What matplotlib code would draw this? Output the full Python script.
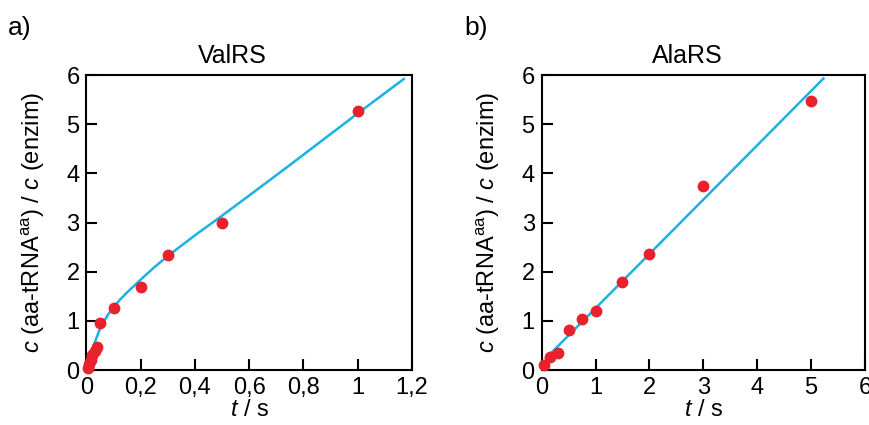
import numpy as np
import matplotlib
matplotlib.use("Agg")
import matplotlib.pyplot as plt

plt.rcParams['font.family'] = ['Liberation Sans', 'DejaVu Sans']
plt.rcParams['mathtext.fontset'] = 'custom'
plt.rcParams['mathtext.rm'] = 'Liberation Sans'
plt.rcParams['mathtext.it'] = 'Liberation Sans:italic'

# ValRS data (t / s, c(aa-tRNA)/c(enzim))
val_t = [0.005, 0.01, 0.015, 0.02, 0.03, 0.04, 0.05, 0.1, 0.2, 0.3, 0.5, 1.0]
val_c = [0.05, 0.12, 0.2, 0.3, 0.38, 0.47, 0.95, 1.27, 1.68, 2.33, 3.0, 5.27]
# fitted curve
val_fit_t = [0, 0.01, 0.02, 0.03, 0.04, 0.05, 0.06, 0.08, 0.1, 0.125, 0.15, 0.2, 0.25,
             0.3, 0.35, 0.4, 0.45, 0.5, 0.6, 0.75, 0.9, 1.0, 1.17]
val_fit_c = [0, 0.2, 0.38, 0.55, 0.7, 0.84, 0.95, 1.13, 1.28, 1.44, 1.58, 1.84, 2.09,
             2.32, 2.53, 2.74, 2.94, 3.14, 3.55, 4.17, 4.8, 5.22, 5.92]

# AlaRS data
ala_t = [0.05, 0.15, 0.3, 0.5, 0.75, 1.0, 1.5, 2.0, 3.0, 5.0]
ala_c = [0.1, 0.27, 0.35, 0.82, 1.04, 1.2, 1.8, 2.35, 3.75, 5.48]
ala_fit_t = [0.08, 5.23]
ala_fit_c = [0.24, 5.93]

val_xticks = [0, 0.2, 0.4, 0.6, 0.8, 1.0, 1.2]
val_xlabels = ['0', '0,2', '0,4', '0,6', '0,8', '1', '1,2']
ala_xticks = [0, 1, 2, 3, 4, 5, 6]
yticks = [0, 1, 2, 3, 4, 5, 6]

red = '#e8222c'
blue = '#1ab1e6'
fs = 17

fig = plt.figure(figsize=(8.7, 4.25), dpi=100)
ax1 = fig.add_axes([0.0994, 0.1294, 0.3741, 0.694])
ax2 = fig.add_axes([0.6226, 0.1294, 0.3716, 0.694])

ax1.plot(val_fit_t, val_fit_c, color=blue, lw=1.8, zorder=2)
ax1.plot(val_t, val_c, 'o', color=red, ms=8.5, mec='none', zorder=3, clip_on=False)
ax1.set_xlim(0, 1.2)
ax1.set_xticks(val_xticks)
ax1.set_xticklabels(val_xlabels)

ax2.plot(ala_fit_t, ala_fit_c, color=blue, lw=1.8, zorder=2)
ax2.plot(ala_t, ala_c, 'o', color=red, ms=8.5, mec='none', zorder=3, clip_on=False)
ax2.set_xlim(0, 6)
ax2.set_xticks(ala_xticks)

ylab = r'$c$ (aa-tRNA$^{\mathrm{aa}}$) / $c$ (enzim)'
for ax in (ax1, ax2):
    ax.set_ylim(0, 6)
    ax.set_yticks(yticks)
    ax.tick_params(direction='in', length=8, width=1.5, labelsize=fs, pad=5,
                   top=False, right=False)
    for sp in ax.spines.values():
        sp.set_linewidth(1.5)
    ax.set_xlabel(r'$t$ / s', fontsize=fs, labelpad=0)
    ax.set_ylabel(ylab, fontsize=fs, labelpad=14)

fig.text(232 / 870, 1 - 63 / 425, 'ValRS', fontsize=18, ha='center', va='baseline')
fig.text(687 / 870, 1 - 63 / 425, 'AlaRS', fontsize=18, ha='center', va='baseline')
fig.text(8 / 870, 1 - 28 / 425, 'a)', fontsize=19, ha='left', va='center')
fig.text(464 / 870, 1 - 28 / 425, 'b)', fontsize=19, ha='left', va='center')

fig.savefig('out.png', dpi=100)
